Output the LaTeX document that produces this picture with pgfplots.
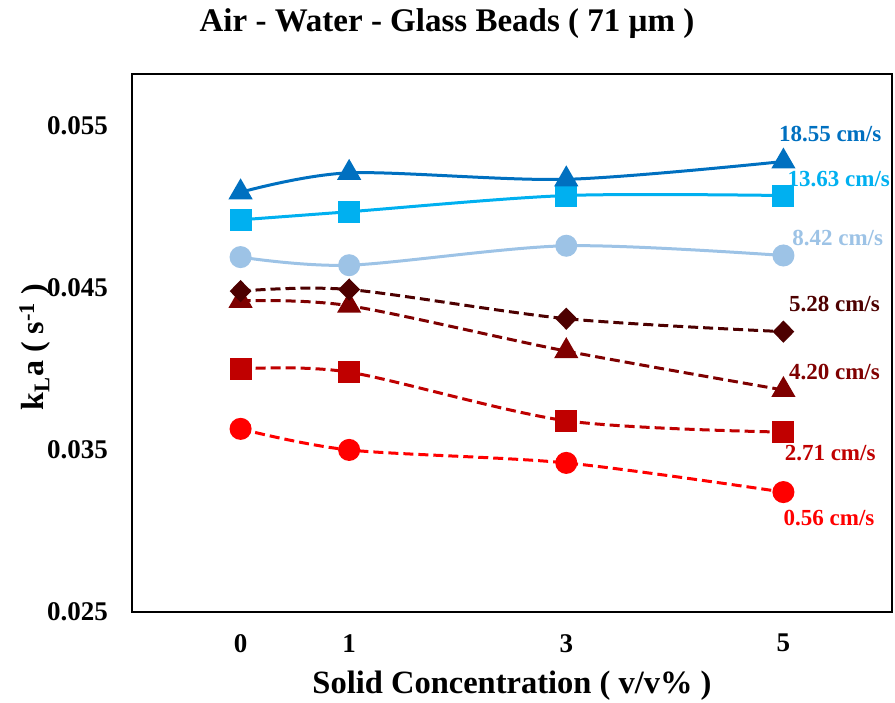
\documentclass[border=0pt]{standalone}
\usepackage{pgfplots}
\pgfplotsset{compat=1.18}
\usepackage{fontspec}
\setmainfont{Liberation Serif}
\definecolor{cA}{HTML}{0070C0}
\definecolor{cB}{HTML}{00B0F0}
\definecolor{cC}{HTML}{9DC3E6}
\definecolor{cD}{HTML}{4D0000}
\definecolor{cE}{HTML}{7F0000}
\definecolor{cF}{HTML}{C00000}
\definecolor{cG}{HTML}{FF0000}
\begin{document}
\begin{tikzpicture}
\path[use as bounding box] (-132pt,-91pt) rectangle (763pt,612pt);
\begin{axis}[
  at={(0pt,0pt)}, anchor=south west,
  scale only axis, width=760pt, height=538pt,
  xmin=-1, xmax=6, ymin=0.025, ymax=0.0582,
  xtick={0,1,3,5}, xticklabels={0,1,3,5},
  ytick={0.025,0.035,0.045,0.055}, yticklabels={0.025,0.035,0.045,0.055},
  scaled y ticks=false, major tick length=0pt,
  axis line style={line width=2.6pt, black},
  tick label style={font=\fontsize{27}{30}\selectfont\bfseries, inner sep=0pt},
  yticklabel style={anchor=east, xshift=-24pt},
  xticklabel style={anchor=north, yshift=-22pt},
  xlabel={Solid Concentration ( v/v\% )},
  xlabel style={at={(axis description cs:0.5,-0.1375)}, anchor=center, font=\fontsize{32.5}{36}\selectfont\bfseries},
  ylabel={k\textsubscript{L}a ( s\textsuperscript{-1} )},
  ylabel style={at={(axis description cs:-0.128,0.4926)}, anchor=center, rotate=0, font=\fontsize{32}{36}\selectfont\bfseries},
  title={Air - Water - Glass Beads ( 71 µm )},
  title style={at={(axis description cs:0.4145,1.0818)}, anchor=center, font=\fontsize{33}{36}\selectfont\bfseries},
  clip=false,
  every axis plot/.append style={line width=3pt, smooth, tension=0.5},
]
% 0.56 cm/s
\addplot[cG, dash pattern=on 10pt off 5pt, mark=*, mark size=9.5pt, mark options={solid}]
  coordinates {(0,0.0363) (1,0.0350) (3,0.0342) (5,0.0324)};
% 2.71 cm/s
\addplot[cF, dash pattern=on 10pt off 5pt, mark=square*, mark size=9.5pt, mark options={solid}]
  coordinates {(0,0.0400) (1,0.0398) (3,0.0368) (5,0.0361)};
% 4.20 cm/s
\addplot[cE, dash pattern=on 10pt off 5pt, mark=triangle*, mark size=11pt, mark options={solid}]
  coordinates {(0,0.0442) (1,0.0439) (3,0.0411) (5,0.0387)};
% 5.28 cm/s
\addplot[cD, dash pattern=on 10pt off 5pt, mark=diamond*, mark size=9pt, mark options={solid, xscale=1.3}]
  coordinates {(0,0.0448) (1,0.0449) (3,0.0431) (5,0.0423)};
% 8.42 cm/s
\addplot[cC, mark=*, mark size=9.5pt]
  coordinates {(0,0.0469) (1,0.0464) (3,0.0476) (5,0.0470)};
% 13.63 cm/s
\addplot[cB, mark=square*, mark size=9.5pt]
  coordinates {(0,0.0492) (1,0.0497) (3,0.0507) (5,0.0507)};
% 18.55 cm/s
\addplot[cA, mark=triangle*, mark size=11pt]
  coordinates {(0,0.0509) (1,0.0521) (3,0.0517) (5,0.0528)};

\begin{scope}[font=\fontsize{23}{26}\selectfont\bfseries]
\node[text=cA] at (axis cs:5.43,0.0545) {18.55 cm/s};
\node[text=cB] at (axis cs:5.51,0.0517) {13.63 cm/s};
\node[text=cC] at (axis cs:5.50,0.0481) {8.42 cm/s};
\node[text=cD] at (axis cs:5.47,0.0440) {5.28 cm/s};
\node[text=cE] at (axis cs:5.47,0.0398) {4.20 cm/s};
\node[text=cF] at (axis cs:5.43,0.0348) {2.71 cm/s};
\node[text=cG] at (axis cs:5.42,0.0308) {0.56 cm/s};
\end{scope}
\end{axis}
\end{tikzpicture}
\end{document}
